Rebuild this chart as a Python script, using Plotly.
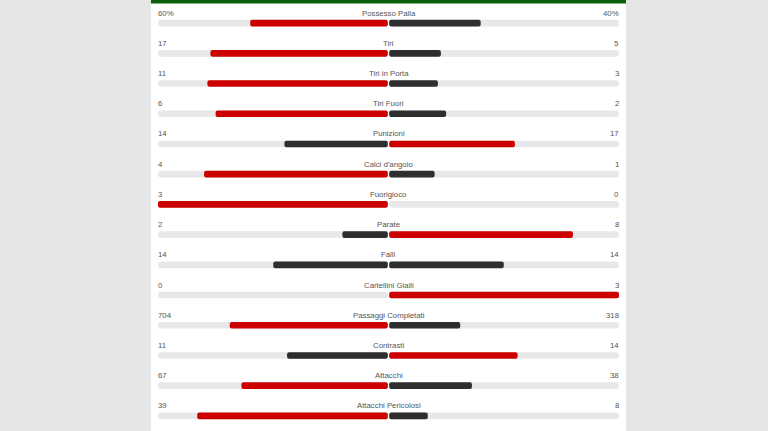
import plotly.graph_objects as go

# ---- data ----
labels = ["Possesso Palla", "Tiri", "Tiri in Porta", "Tiri Fuori", "Punizioni",
          "Calci d'angolo", "Fuorigioco", "Parate", "Falli", "Cartellini Gialli",
          "Passaggi Completati", "Contrasti", "Attacchi", "Attacchi Pericolosi"]
home = [60, 17, 11, 6, 14, 4, 3, 2, 14, 0, 704, 11, 67, 39]
away = [40, 5, 3, 2, 17, 1, 0, 8, 14, 3, 318, 14, 38, 8]
home_txt = ["60%"] + [str(v) for v in home[1:]]
away_txt = ["40%"] + [str(v) for v in away[1:]]

RED = "#cc0000"
DARK = "#2e2e2e"
TRACK = "#e8e8e8"
TXT = "#555555"
GAP = 0.003
BW = 0.22

n = len(labels)
rows = list(range(n))

fig = go.Figure()

# track
fig.add_trace(go.Bar(y=rows, x=[-(1 - GAP)] * n, base=[-GAP] * n, orientation="h",
                     width=BW, marker=dict(color=TRACK, line=dict(width=0), cornerradius=3),
                     hoverinfo="skip", showlegend=False))
fig.add_trace(go.Bar(y=rows, x=[(1 - GAP)] * n, base=[GAP] * n, orientation="h",
                     width=BW, marker=dict(color=TRACK, line=dict(width=0), cornerradius=3),
                     hoverinfo="skip", showlegend=False))

# value bars
ly, lx, lb, lc = [], [], [], []
ry, rx, rb, rc = [], [], [], []
for i, (h, a) in enumerate(zip(home, away)):
    tot = h + a
    if h > 0:
        r = h / tot
        ly.append(i); lx.append(-(r - GAP)); lb.append(-GAP)
        lc.append(RED if h > a else DARK)
    if a > 0:
        r = a / tot
        ry.append(i); rx.append(r - GAP); rb.append(GAP)
        rc.append(RED if a > h else DARK)

fig.add_trace(go.Bar(y=ly, x=lx, base=lb, orientation="h", width=BW,
                     marker=dict(color=lc, line=dict(width=0), cornerradius=2),
                     hoverinfo="skip", showlegend=False))
fig.add_trace(go.Bar(y=ry, x=rx, base=rb, orientation="h", width=BW,
                     marker=dict(color=rc, line=dict(width=0), cornerradius=2),
                     hoverinfo="skip", showlegend=False))

font = dict(family="Liberation Sans, Arial, sans-serif", size=7.8, color=TXT)
common = dict(xref="x", yref="y", showarrow=False, yanchor="middle", yshift=10,
              font=font, borderpad=0, borderwidth=0)
ann = []
for i in rows:
    ann.append(dict(x=-1, y=i, text=home_txt[i], xanchor="left", **common))
    ann.append(dict(x=0, y=i, text=labels[i], xanchor="center", **common))
    ann.append(dict(x=1, y=i, text=away_txt[i], xanchor="right", **common))

L, R, T, B = 158, 149, 8, 0
W, H = 768, 431
pw, ph = W - L - R, H - T - B
px0 = (151 - L) / pw
px1 = (626 - L) / pw

shapes = [
    dict(type="rect", xref="paper", yref="paper", x0=px0, x1=px1,
         y0=-B / ph - 0.01, y1=1 + T / ph + 0.01, fillcolor="white", line=dict(width=0), layer="below"),
    dict(type="rect", xref="paper", yref="paper", x0=px0, x1=px1,
         y0=1 + (T - 3.5) / ph, y1=1 + T / ph + 0.01, fillcolor="#0b5e0b", line=dict(width=0), layer="below"),
]

fig.update_layout(
    width=W, height=H,
    margin=dict(l=L, r=R, t=T, b=B, pad=0),
    paper_bgcolor="#e6e6e6",
    plot_bgcolor="rgba(0,0,0,0)",
    barmode="overlay",
    annotations=ann,
    shapes=shapes,
    xaxis=dict(range=[-1, 1], visible=False, fixedrange=True),
    yaxis=dict(range=[n - 0.5, -0.5], visible=False, fixedrange=True),
)

fig.write_html("out.html", config={"displayModeBar": False})
